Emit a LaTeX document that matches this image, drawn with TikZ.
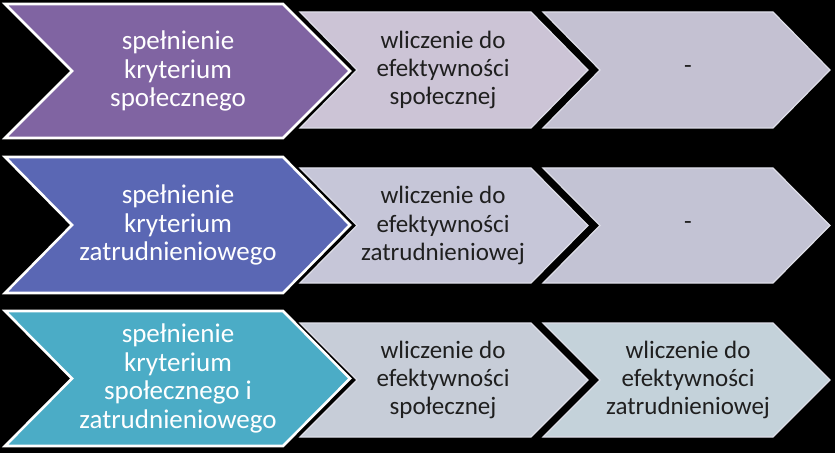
\documentclass[tikz,border=0pt]{standalone}
\usepackage{fontspec}
\setmainfont{Carlito}
\definecolor{cpurple}{RGB}{128,100,162}
\definecolor{cblue}{RGB}{90,103,180}
\definecolor{cteal}{RGB}{75,172,198}
\definecolor{la}{RGB}{204,196,214}
\definecolor{lb}{RGB}{196,193,210}
\definecolor{lc}{RGB}{198,198,216}
\definecolor{ld}{RGB}{195,195,212}
\definecolor{le}{RGB}{199,205,216}
\definecolor{lf}{RGB}{196,210,218}
\definecolor{ledge}{RGB}{222,222,232}
\tikzset{
  bigchev/.style={draw=white, line width=2.6pt, line join=miter},
  smallchev/.style={draw=ledge, line width=1.2pt, line join=miter},
  bigtxt/.style={text=white, align=center, font=\fontsize{27}{28.5}\selectfont},
  smalltxt/.style={text=black!88, align=center, font=\fontsize{25}{28.3}\selectfont},
}
% #1 style, #2 fill, #3 left x, #4 top y (image), #5 width, #6 height, #7 depth
\newcommand\mychev[7]{%
  \pgfmathsetmacro\chvT{453-#4}%
  \pgfmathsetmacro\chvB{453-#4-#6}%
  \pgfmathsetmacro\chvM{453-#4-#6/2}%
  \pgfmathsetmacro\chvR{#3+#5-#7}%
  \pgfmathsetmacro\chvP{#3+#5}%
  \pgfmathsetmacro\chvN{#3+#7}%
  \path[#1, fill=#2] (#3pt,\chvT pt) -- (\chvR pt,\chvT pt) -- (\chvP pt,\chvM pt) -- (\chvR pt,\chvB pt) -- (#3pt,\chvB pt) -- (\chvN pt,\chvM pt) -- cycle;%
}
\begin{document}
\begin{tikzpicture}[x=1pt,y=1pt]
\fill[black] (0,0) rectangle (835,453);
\useasboundingbox (0,0) rectangle (835,453);
% row 1
\mychev{smallchev}{lb}{543}{12}{287}{116}{57}
\mychev{smallchev}{la}{300}{12}{288}{116}{57}
\mychev{bigchev}{cpurple}{5}{4}{345}{134}{67}
\node[bigtxt] (b1) at (178,453-71) {spełnienie\\kryterium\\społecznego};
\node[smalltxt] (s11) at (443,453-70) {wliczenie do\\efektywności\\społecznej};
\node[smalltxt] (s12) at (688,453-70) {-};
% row 2
\mychev{smallchev}{ld}{543}{168}{287}{115}{57}
\mychev{smallchev}{lc}{300}{168}{288}{115}{57}
\mychev{bigchev}{cblue}{5}{157}{345}{136}{67}
\node[bigtxt] (b2) at (178,453-225) {spełnienie\\kryterium\\zatrudnieniowego};
\node[smalltxt] (s21) at (443,453-225.5) {wliczenie do\\efektywności\\zatrudnieniowej};
\node[smalltxt] (s22) at (688,453-225.5) {-};
% row 3
\mychev{smallchev}{lf}{543}{323}{287}{114}{57}
\mychev{smallchev}{le}{300}{323}{288}{114}{57}
\mychev{bigchev}{cteal}{5}{311}{345}{135}{67}
\node[bigtxt] (b3) at (178,453-378.5) {spełnienie\\kryterium\\społecznego i\\zatrudnieniowego};
\node[smalltxt] (s31) at (443,453-380) {wliczenie do\\efektywności\\społecznej};
\node[smalltxt] (s32) at (688,453-380) {wliczenie do\\efektywności\\zatrudnieniowej};
\end{tikzpicture}
\end{document}
